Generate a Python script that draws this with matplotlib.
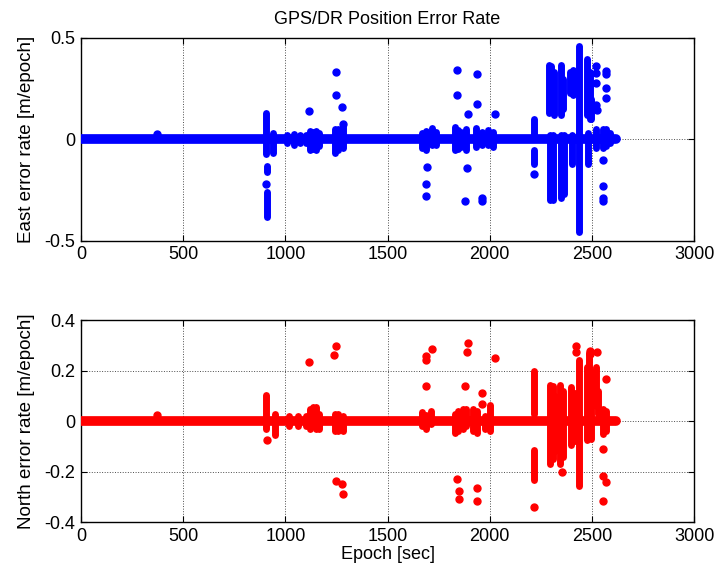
import matplotlib
matplotlib.use("Agg")
import matplotlib.pyplot as plt

plt.rcParams['font.family'] = ['Liberation Sans', 'DejaVu Sans']
plt.rcParams['font.size'] = 13

# ---------------- data ----------------
x_ticks = [0, 500, 1000, 1500, 2000, 2500, 3000]
x_tick_labels = ['0', '500', '1000', '1500', '2000', '2500', '3000']

east_y_ticks = [-0.5, 0, 0.5]
east_y_labels = ['-0.5', '0', '0.5']
north_y_ticks = [-0.4, -0.2, 0, 0.2, 0.4]
north_y_labels = ['-0.4', '-0.2', '0', '0.2', '0.4']

# dense low-noise baseline (epoch, value)
east_base_epochs = [0, 2620]
east_base_vals = [0.0, 0.0]
north_base_epochs = [0, 2620]
north_base_vals = [0.0, 0.0]

# vertical clusters of consecutive samples: epoch, low, high
east_seg_epochs = [905, 910, 908, 940, 1010, 1040, 1070, 1100, 1120, 1135, 1150, 1165,
                   1245, 1260, 1280,
                   1668, 1690, 1716, 1735, 1830, 1845, 1860, 1885, 1935, 1960, 1990, 2015,
                   2218, 2218,
                   2290, 2300, 2315, 2295, 2310, 2347, 2360, 2350, 2362,
                   2395, 2410, 2420, 2405, 2439, 2478, 2490, 2495, 2480,
                   2520, 2555, 2570, 2590]
east_seg_lo = [-0.07, -0.16, -0.38, -0.065, -0.02, -0.025, -0.02, -0.02, -0.05, -0.045, -0.05, -0.03,
               -0.065, -0.05, -0.04,
               -0.04, -0.05, -0.025, -0.025, -0.05, -0.045, -0.035, -0.05, -0.035, -0.025, -0.025, -0.035,
               0.01, -0.12,
               0.13, 0.14, 0.12, -0.30, -0.30, 0.12, 0.15, -0.29, -0.27,
               0.23, 0.22, 0.24, -0.12, -0.455, 0.12, 0.10, 0.10, -0.12,
               -0.04, -0.04, -0.03, -0.02]
east_seg_hi = [0.13, -0.13, -0.26, 0.03, 0.02, 0.025, 0.02, 0.02, 0.04, 0.035, 0.04, 0.03,
               0.05, 0.05, 0.06,
               0.03, 0.04, 0.055, 0.035, 0.06, 0.045, 0.035, 0.05, 0.055, 0.035, 0.045, 0.035,
               0.10, -0.05,
               0.365, 0.36, 0.33, 0.02, 0.02, 0.365, 0.30, 0.02, 0.02,
               0.33, 0.34, 0.30, 0.02, 0.46, 0.395, 0.33, 0.20, 0.03,
               0.05, 0.05, 0.05, 0.03]

# isolated samples: epoch, value
east_pt_epochs = [370, 905, 1114, 1248, 1248, 1276, 1284,
                  1838, 1838, 1936, 1936, 1894, 2026, 1692, 1687, 1687, 1888, 1881, 1964, 1964,
                  2218, 2520, 2520, 2520, 2520, 2525, 2568, 2568, 2568, 2568,
                  2553, 2553, 2553, 2553]
east_pt_vals = [0.025, -0.22, 0.142, 0.33, 0.218, 0.162, 0.078,
                0.343, 0.218, 0.323, 0.177, 0.127, 0.127, -0.134, -0.218, -0.28, -0.14, -0.302, -0.29, -0.302,
                -0.17, 0.36, 0.325, 0.28, 0.17, 0.145, 0.335, 0.32, 0.255, 0.205,
                -0.10, -0.23, -0.29, -0.302]

north_seg_epochs = [905, 950, 1020, 1060, 1100, 1120, 1135, 1150, 1165,
                    1245, 1260, 1280,
                    1670, 1690, 1715, 1830, 1845, 1870, 1885, 1920, 1940, 1975, 2000,
                    2219, 2219,
                    2297, 2310, 2320, 2345, 2358,
                    2400, 2415, 2425, 2439, 2475, 2488, 2495,
                    2520, 2532, 2555, 2570]
north_seg_lo = [-0.03, -0.055, -0.02, -0.02, -0.02, -0.03, -0.02, -0.03, -0.03,
                -0.04, -0.04, -0.04,
                -0.02, -0.03, -0.01, -0.045, -0.04, -0.03, -0.02, -0.04, -0.045, -0.03, -0.04,
                0.03, -0.235,
                -0.17, -0.15, -0.12, -0.17, -0.14,
                -0.095, -0.08, -0.05, -0.255, -0.075, 0.10, -0.07,
                0.06, 0.03, -0.05, -0.04]
north_seg_hi = [0.105, 0.03, 0.02, 0.02, 0.02, 0.05, 0.055, 0.055, 0.03,
                0.03, 0.03, 0.02,
                0.035, 0.025, 0.04, 0.03, 0.04, 0.05, 0.05, 0.05, 0.04, 0.02, 0.065,
                0.20, -0.115,
                0.145, 0.14, 0.10, 0.145, 0.12,
                0.135, 0.11, 0.08, 0.242, 0.215, 0.27, 0.20,
                0.215, 0.12, 0.05, 0.04]

north_pt_epochs = [372, 910, 1114, 1248, 1240, 1248, 1276, 1284,
                   1687, 1690, 1719, 1687, 1894, 1888, 1881, 2026, 1964, 1964,
                   1838, 1852, 1852, 1936, 1936, 2219,
                   2355, 2424, 2420, 2490, 2493, 2524,
                   2568, 2553, 2553, 2568, 2553]
north_pt_vals = [0.024, -0.075, 0.235, 0.30, 0.262, -0.237, -0.247, -0.29,
                 0.242, 0.257, 0.285, 0.14, 0.308, 0.275, 0.14, 0.251, 0.11, 0.07,
                 -0.23, -0.277, -0.31, -0.263, -0.317, -0.34,
                 -0.20, 0.30, 0.275, 0.28, 0.265, 0.275,
                 0.167, -0.11, -0.218, -0.24, -0.317]

# ---------------- drawing ----------------
fig = plt.figure(figsize=(7.17, 5.75), dpi=100)
ax1 = fig.add_axes([0.113, 0.581, 0.855, 0.353])
ax2 = fig.add_axes([0.113, 0.092, 0.855, 0.351])

MS = 5.0


def draw(ax, base_e, base_v, seg_e, seg_lo, seg_hi, pt_e, pt_v, color):
    ax.plot(base_e, base_v, color=color, lw=7.0, solid_capstyle='round', zorder=3)
    lc = ax.vlines(seg_e, seg_lo, seg_hi, colors=color, lw=MS, zorder=3)
    lc.set_capstyle('round')
    ax.plot(pt_e, pt_v, 'o', color=color, ms=MS, mec=color, zorder=3)


draw(ax1, east_base_epochs, east_base_vals, east_seg_epochs, east_seg_lo, east_seg_hi,
     east_pt_epochs, east_pt_vals, (0, 0, 1))
draw(ax2, north_base_epochs, north_base_vals, north_seg_epochs, north_seg_lo, north_seg_hi,
     north_pt_epochs, north_pt_vals, (1, 0, 0))

for ax, yt, yl, lim in [(ax1, east_y_ticks, east_y_labels, (-0.5, 0.5)),
                        (ax2, north_y_ticks, north_y_labels, (-0.4, 0.4))]:
    ax.set_xlim(0, 3000)
    ax.set_ylim(*lim)
    ax.set_xticks(x_ticks)
    ax.set_xticklabels(x_tick_labels)
    ax.set_yticks(yt)
    ax.set_yticklabels(yl)
    ax.tick_params(direction='in', length=4, top=True, right=True, labelsize=13, pad=4)
    ax.grid(True, linestyle=':', color='0.3', lw=0.7)
    ax.set_axisbelow(True)
    for s in ax.spines.values():
        s.set_linewidth(1.0)

ax1.set_title('GPS/DR Position Error Rate', fontsize=13, pad=10)
ax1.set_ylabel('East error rate [m/epoch]', fontsize=13.5, labelpad=7)
ax2.set_ylabel('North error rate [m/epoch]', fontsize=13.5, labelpad=7)
ax2.set_xlabel('Epoch [sec]', fontsize=13, labelpad=1)

fig.savefig('out.png', dpi=100)
